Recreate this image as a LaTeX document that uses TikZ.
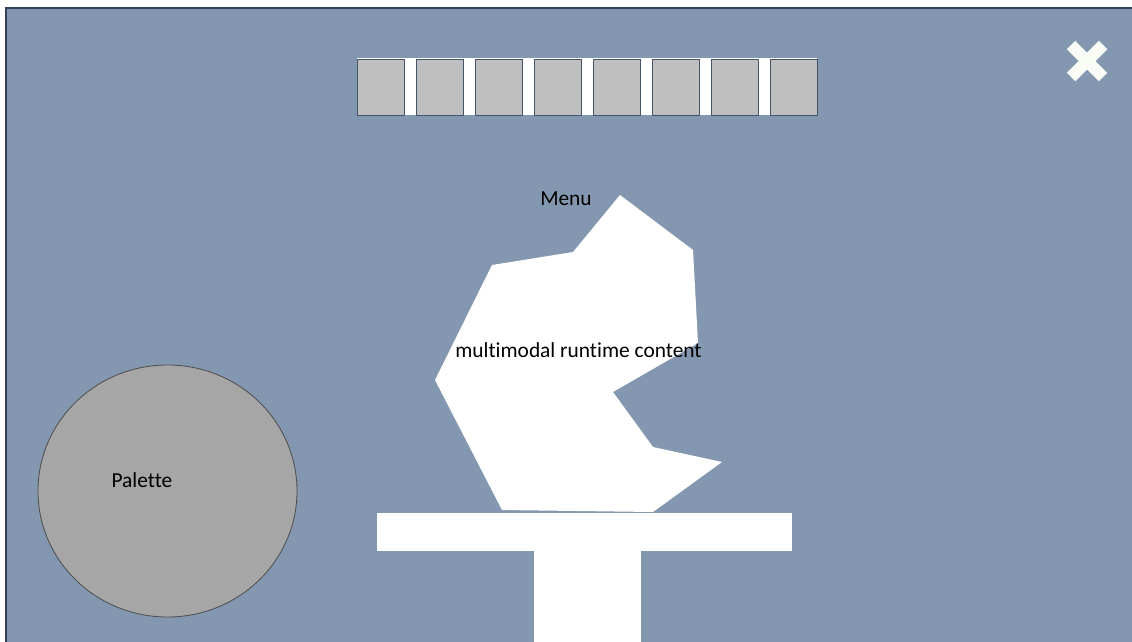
\documentclass[tikz,border=0pt]{standalone}
\usepackage{fontspec}
\setmainfont[Ligatures=NoCommon]{Carlito}
\definecolor{screenblue}{HTML}{8497B0}
\definecolor{framenavy}{HTML}{2F3F5C}
\definecolor{boxgray}{HTML}{BFBFBF}
\definecolor{boxedge}{HTML}{44546A}
\definecolor{palettegray}{HTML}{A6A6A6}
\definecolor{closecream}{HTML}{FAFCF6}
\tikzset{
    label text/.style={anchor=base, inner sep=0pt, font=\fontsize{21.4}{25}\selectfont},
    tool box/.style={fill=boxgray, draw=boxedge, line width=1pt}
}
\begin{document}
\begin{tikzpicture}[x=1pt,y=-1pt]
    \useasboundingbox (0,0) rectangle (1132,641);
    \fill[white] (0,0) rectangle (1132,641);
    \fill[screenblue,draw=framenavy,line width=2pt] (6,8) rectangle (1140,650);

    % toolbar
    \fill[white] (357,58) rectangle (817,115);
    \foreach \k in {0,...,7} {
        \draw[tool box] (357+59*\k,59) rectangle (404+59*\k,115);
    }

    % close button
    \draw[closecream,line width=12pt] (1071,45) -- (1103,77);
    \draw[closecream,line width=12pt] (1071,77) -- (1103,45);

    % content shape and stand
    \fill[white] (620,195) -- (693,250) -- (698,343) -- (613,392) -- (653,447)
        -- (722,462) -- (653,512) -- (502,510) -- (435,380) -- (492,265)
        -- (573,252) -- cycle;
    \fill[white] (377,513) rectangle (792,551);
    \fill[white] (534,551) rectangle (641,645);

    % palette
    \fill[palettegray,draw=black!70,line width=0.8pt] (167.5,491) ellipse (129.5 and 126);

    \node[label text] (menu) at (566,205) {Menu};
    \node[label text] (content) at (578.5,357) {multimodal runtime content};
    \node[label text] (palette) at (142,487) {Palette};
\end{tikzpicture}
\end{document}
